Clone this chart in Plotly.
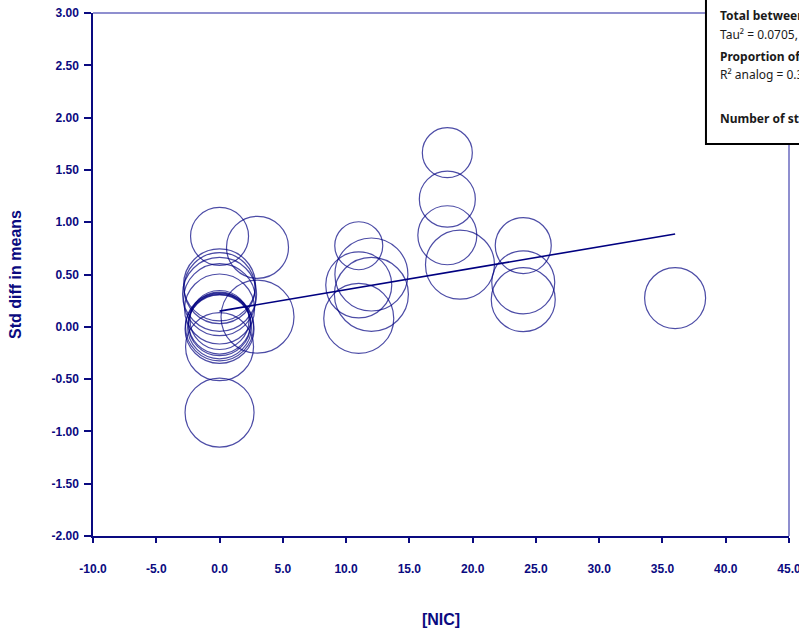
import plotly.graph_objects as go

# ---- data ----
nic = [0, 3, 3, 0, 0, 0, 0, 0, 0, 0, 0, 0, 0, 0, 0, 0,
       11, 12, 11, 12, 11, 18, 18, 18, 19, 24, 24, 24, 36]
smd = [0.865, 0.76, 0.097, -0.82, 0.40, 0.37, 0.31, 0.26, 0.17, 0.065, 0.036, 0.02, 0.0, 0.0, -0.02, -0.19,
       0.775, 0.50, 0.40, 0.31, 0.08, 1.665, 1.22, 0.875, 0.594, 0.777, 0.425, 0.26, 0.275]
weight = [2.90, 3.10, 3.65, 3.45, 3.60, 3.55, 3.70, 3.60, 3.50, 2.95, 3.10, 3.10, 3.20, 3.40, 3.45, 3.40,
          2.40, 3.65, 3.30, 3.70, 3.50, 2.50, 2.80, 2.95, 3.45, 2.80, 3.15, 3.20, 3.05]

intercept = 0.15
slope = 0.0205

x_ticks = [-10, -5, 0, 5, 10, 15, 20, 25, 30, 35, 40, 45]
y_ticks = [-2.0, -1.5, -1.0, -0.5, 0.0, 0.5, 1.0, 1.5, 2.0, 2.5, 3.0]

box_lines = [
    ("<b>Total between-study</b>", 0.9943),
    ("Tau² = 0.0705, Tau = 0.2655, I² = 62%", 0.958),
    ("<b>Proportion of total between-study variance explained</b>", 0.9159),
    ("R² analog = 0.30", 0.8815),
    ("<b>Number of studies = 29</b>", 0.7992),
]

NAVY = "#0a0a80"
LIGHT = "#6a6abf"

reg_x = [min(nic), max(nic)]
reg_y = [intercept + slope * v for v in reg_x]

fig = go.Figure()
fig.add_trace(go.Scatter(
    x=nic, y=smd, mode="markers",
    marker=dict(symbol="circle-open", size=weight, sizemode="diameter", sizeref=0.05,
                color="#000080", line=dict(color="#000080", width=1.2)),
    hoverinfo="skip", showlegend=False,
))
fig.add_trace(go.Scatter(
    x=reg_x, y=reg_y, mode="lines",
    line=dict(color="#000080", width=1.6),
    hoverinfo="skip", showlegend=False,
))

tickfont = dict(family="Liberation Sans, Arial, sans-serif", size=12, color=NAVY, weight="bold")
titlefont = dict(family="Liberation Sans, Arial, sans-serif", size=16, color=NAVY, weight="bold")

fig.update_xaxes(
    range=[-10, 45], tickvals=x_ticks, ticktext=[f"{v:.1f}" for v in x_ticks],
    showgrid=False, zeroline=False, showline=True, linecolor=NAVY, linewidth=1.5,
    ticks="outside", ticklen=5, tickwidth=1.5, tickcolor=NAVY,
    tickfont=tickfont, ticklabelstandoff=16, ticklabeloverflow="allow",
    automargin=False,
    title=dict(text="[NIC]", font=titlefont, standoff=39),
)
fig.update_yaxes(
    range=[-2, 3], tickvals=y_ticks, ticktext=[f"{v:.2f}" for v in y_ticks],
    showgrid=False, zeroline=False, showline=True, linecolor=NAVY, linewidth=1.5,
    ticks="outside", ticklen=7, tickwidth=1.5, tickcolor=NAVY,
    tickfont=tickfont, ticklabelstandoff=3, ticklabeloverflow="allow",
    automargin=False,
    title=dict(text="Std diff in means", font=titlefont, standoff=26),
)

shapes = [
    dict(type="line", xref="paper", yref="paper", x0=0, x1=1, y0=1, y1=1,
         line=dict(color=LIGHT, width=1.5)),
    dict(type="line", xref="paper", yref="paper", x0=1, x1=1, y0=0, y1=1,
         line=dict(color=LIGHT, width=1.5)),
    dict(type="rect", xref="paper", yref="paper", x0=0.8807, x1=1.5, y0=0.7495, y1=1.08,
         fillcolor="white", line=dict(color="black", width=2)),
]

annotations = []
for txt, yy in box_lines:
    annotations.append(dict(
        text=txt, xref="paper", yref="paper", x=0.898, y=yy,
        xanchor="left", yanchor="middle", showarrow=False, align="left",
        font=dict(family="Noto Sans, Open Sans, sans-serif", size=12, color="#1a1a1a"),
    ))

fig.update_layout(
    width=799, height=631,
    margin=dict(l=93, r=10, t=13, b=95, autoexpand=False),
    paper_bgcolor="white", plot_bgcolor="white",
    shapes=shapes, annotations=annotations,
    showlegend=False,
)

fig.write_html("out.html", config={"displayModeBar": False},
               post_script="document.body.style.margin='0';")
